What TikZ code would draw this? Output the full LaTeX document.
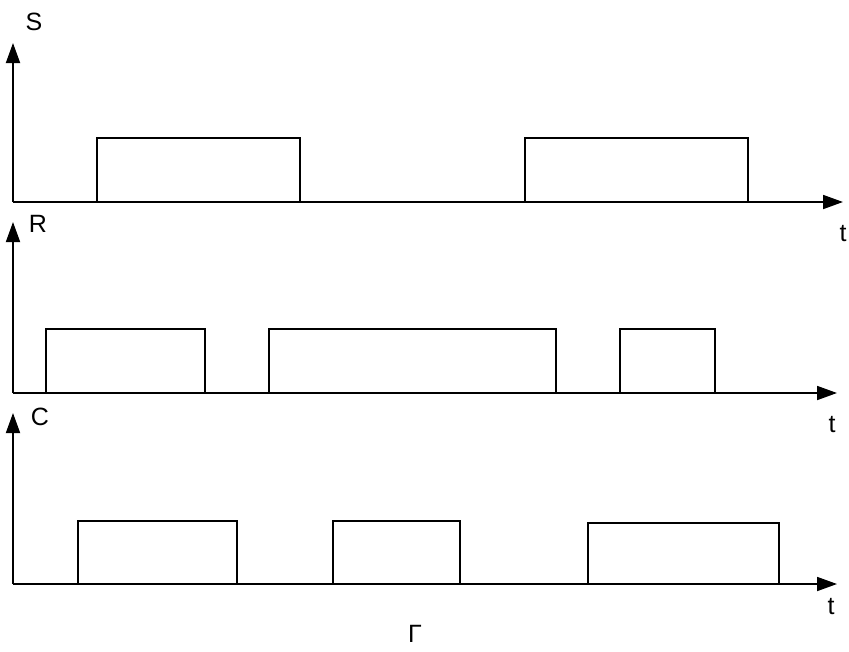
\documentclass[tikz,border=0pt]{standalone}
\usepackage{fontspec}
\setmainfont{Liberation Sans}
\usetikzlibrary{arrows.meta}

\begin{document}
\begin{tikzpicture}[x=1pt, y=-1pt, >={Triangle[length=20pt,width=14pt]}, line width=1.8pt,
    lbl/.style={inner sep=0pt, font=\fontsize{25}{30}\selectfont}]
    \useasboundingbox (0,0) rectangle (849,651);
    % S
    \coordinate (oS) at (13,202);
    \coordinate (yS) at (13,43);
    \coordinate (xS) at (843,202);
    \draw[->] (oS) -- (yS);
    \draw[->] (oS) -- (xS);
    \node[lbl] (S) at (34,22) {S};
    \node[lbl] (tS) at (843,234) {t};
    \draw (97,202) |- (300,138) -- (300,202);
    \draw (525,202) |- (748,138) -- (748,202);
    % R
    \coordinate (oR) at (13,393);
    \coordinate (yR) at (13,222);
    \coordinate (xR) at (837,393);
    \draw[->] (oR) -- (yR);
    \draw[->] (oR) -- (xR);
    \node[lbl] (R) at (38,224) {R};
    \node[lbl] (tR) at (832,425) {t};
    \draw (46,393) |- (205,329) -- (205,393);
    \draw (269,393) |- (556,329) -- (556,393);
    \draw (620,393) |- (715,329) -- (715,393);
    % C
    \coordinate (oC) at (13,584);
    \coordinate (yC) at (13,413);
    \coordinate (xC) at (837,584);
    \draw[->] (oC) -- (yC);
    \draw[->] (oC) -- (xC);
    \node[lbl] (C) at (40,417) {C};
    \node[lbl] (tC) at (831,607) {t};
    \draw (78,584) |- (237,521) -- (237,584);
    \draw (333,584) |- (460,521) -- (460,584);
    \draw (588,584) |- (779,523) -- (779,584);
    % 标题
    \node[lbl, anchor=north] (cap) at (415,624) {Г};
\end{tikzpicture}
\end{document}
